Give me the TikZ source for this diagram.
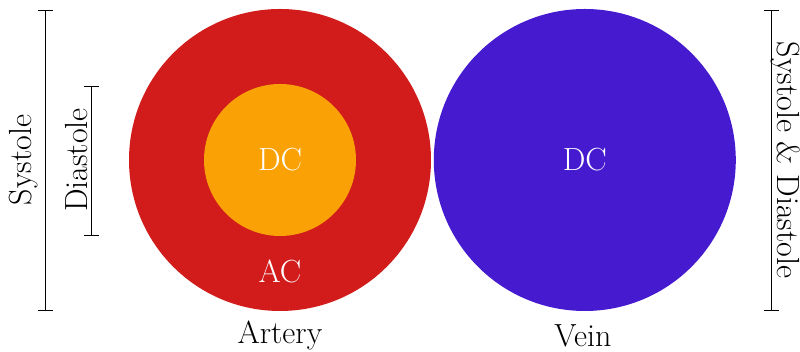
\documentclass[tikz,border=0pt]{standalone}
\usepackage{tikz}
\usetikzlibrary{positioning,arrows.meta}
\definecolor{arteryred}{RGB}{210,28,28}
\definecolor{dcorange}{RGB}{250,161,5}
\definecolor{veinblue}{RGB}{70,27,208}

\begin{document}
\begin{tikzpicture}[
    x=0.5pt, y=0.5pt,
    every node/.style={font=\fontsize{16}{19}\selectfont},
    vessel/.style={circle, inner sep=0pt, minimum size=151pt, text=white},
    core/.style={circle, inner sep=0pt, minimum size=76pt, fill=dcorange, text=white},
    bracket/.style={line width=0.6pt, {Bar[width=7.5pt]}-{Bar[width=7.5pt]}}
]
    \useasboundingbox (0,0) rectangle (800,352);

    \node[vessel, fill=arteryred] (artery) at (280,192) {};
    \node[core] (arterydc) at (artery.center) {DC};
    \node[vessel, fill=veinblue, right=1pt of artery] (vein) {DC};

    \node[text=white, anchor=base] (ac) at (280,69) {AC};
    \node[anchor=base] (arterylbl) at (280,8) {Artery};
    \node[anchor=base] (veinlbl) at (583,5) {Vein};

    \coordinate (systop) at (45.5,342);
    \coordinate (sysbot) at (45.5,41);
    \coordinate (diatop) at (91.5,266);
    \coordinate (diabot) at (91.5,116);
    \coordinate (bothtop) at (771.5,342);
    \coordinate (bothbot) at (771.5,41);

    \draw[bracket] (systop) -- (sysbot);
    \draw[bracket] (diatop) -- (diabot);
    \draw[bracket] (bothtop) -- (bothbot);

    \node[rotate=90, anchor=base] (systole) at (32,192) {Systole};
    \node[rotate=90, anchor=base] (diastole) at (87,192) {Diastole};
    \node[rotate=-90, anchor=base] (both) at (777,192) {Systole \& Diastole};
\end{tikzpicture}
\end{document}
